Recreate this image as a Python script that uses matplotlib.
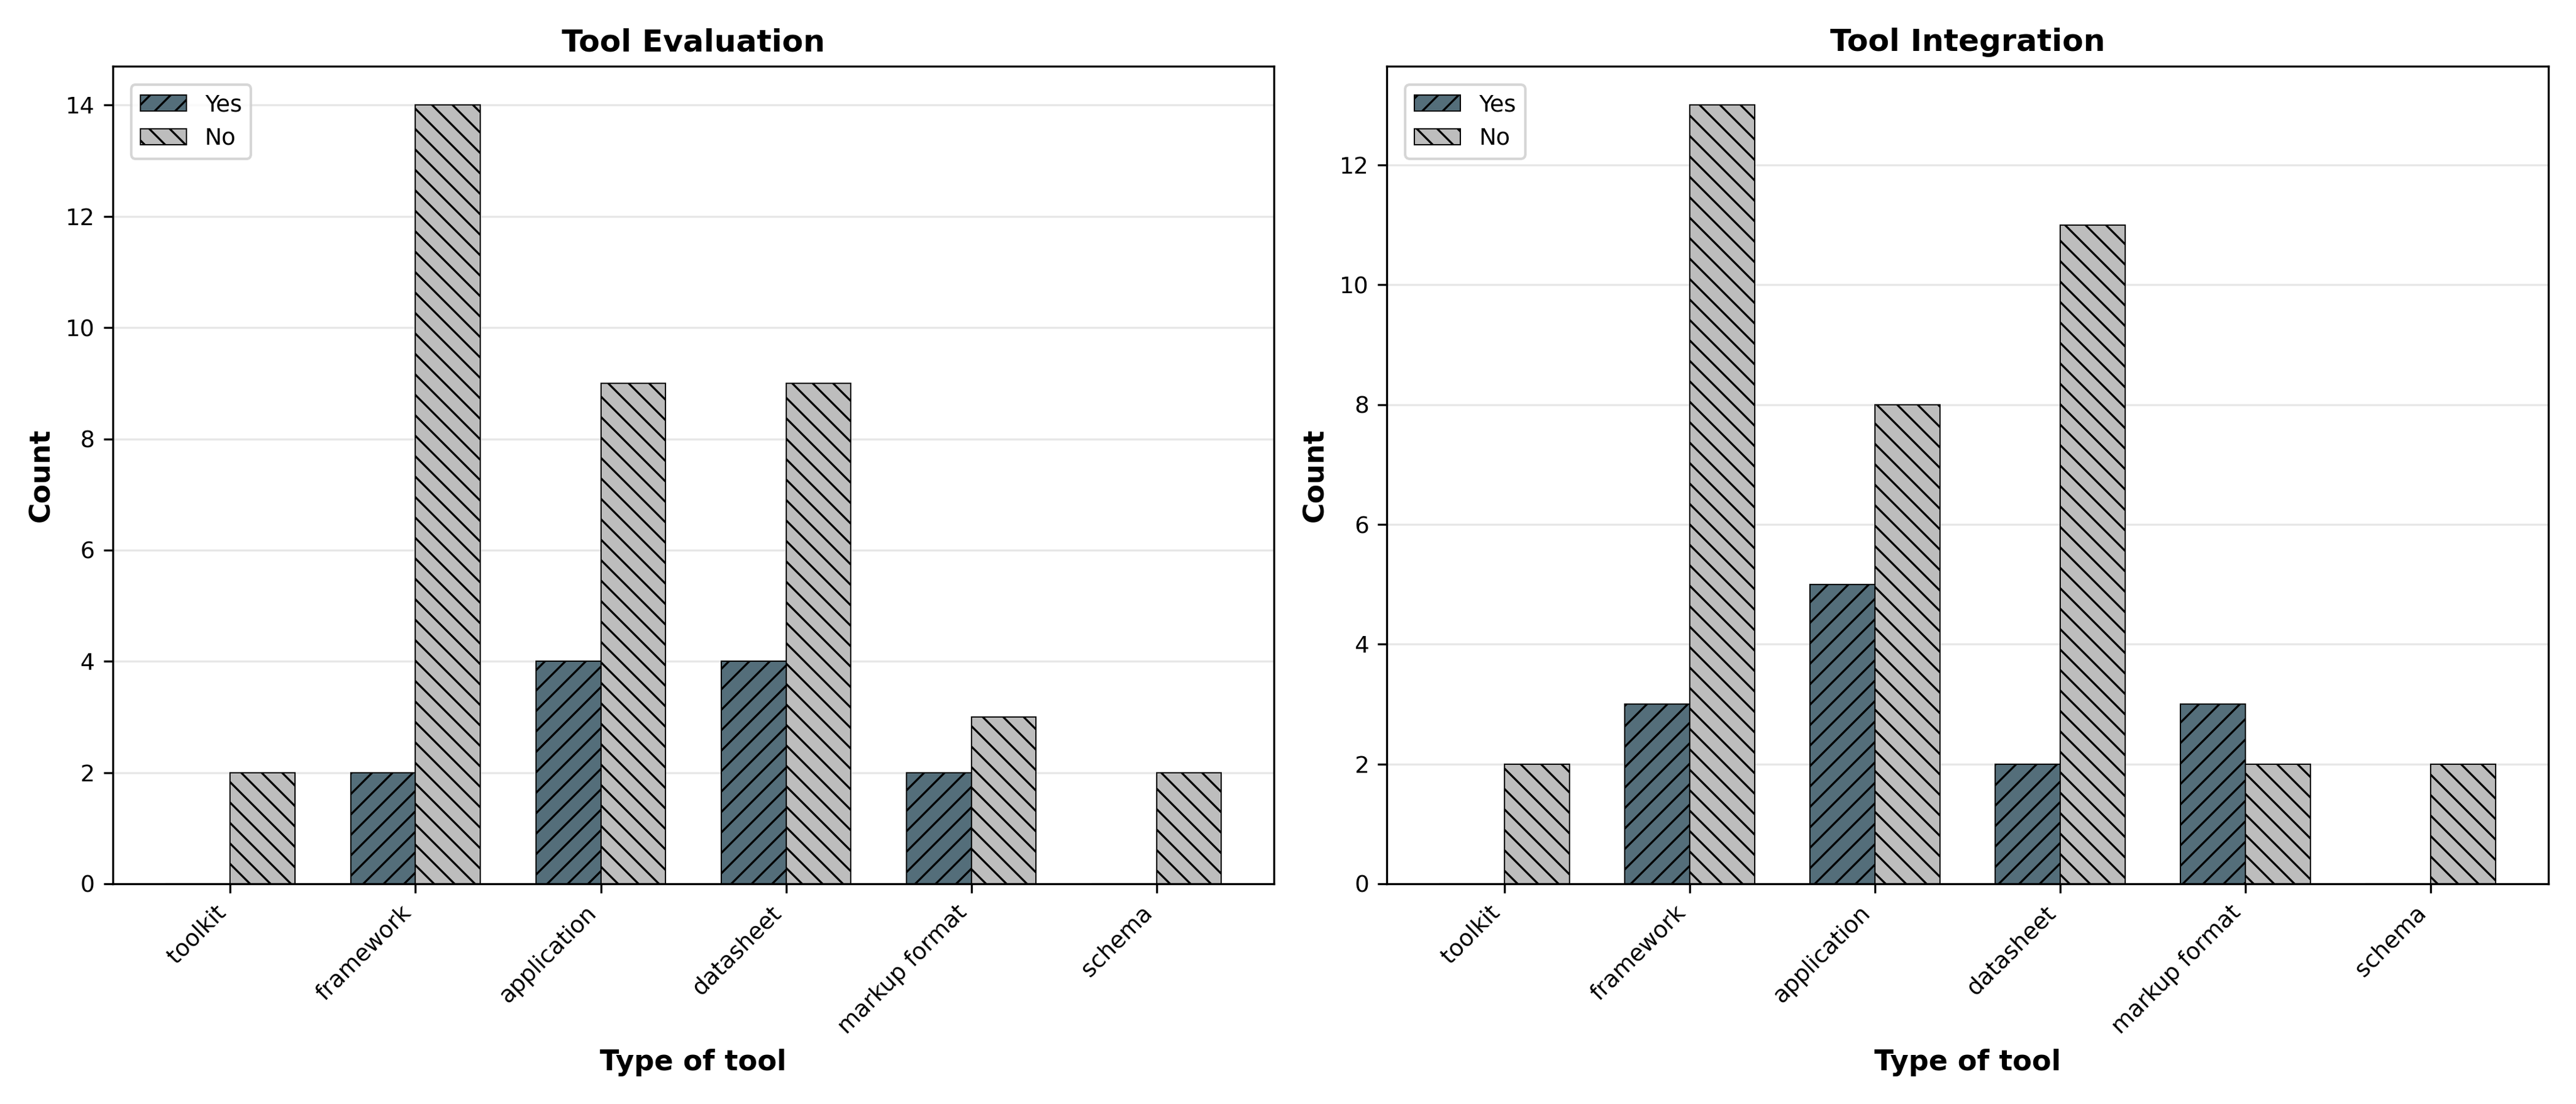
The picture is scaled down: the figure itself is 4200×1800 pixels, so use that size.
import numpy as np
import matplotlib
matplotlib.use("Agg")
import matplotlib.pyplot as plt

categories = ["toolkit", "framework", "application", "datasheet", "markup format", "schema"]
eval_yes = [0, 2, 4, 4, 2, 0]
eval_no = [2, 14, 9, 9, 3, 2]
integ_yes = [0, 3, 5, 2, 3, 0]
integ_no = [2, 13, 8, 11, 2, 2]

YES_COLOR = "#546E7A"
NO_COLOR = "#BDBDBD"

plt.rcParams["hatch.linewidth"] = 0.8

fig, axes = plt.subplots(1, 2, figsize=(14, 6), dpi=300)

panels = [
    (axes[0], "Tool Evaluation", eval_yes, eval_no),
    (axes[1], "Tool Integration", integ_yes, integ_no),
]

x = np.arange(len(categories))
width = 0.35

for ax, title, yes, no in panels:
    ax.bar(x - width / 2, yes, width, label="Yes", color=YES_COLOR,
           edgecolor="black", linewidth=0.5, hatch="///")
    ax.bar(x + width / 2, no, width, label="No", color=NO_COLOR,
           edgecolor="black", linewidth=0.5, hatch="\\\\\\")
    ax.set_title(title, fontsize=12, fontweight="bold")
    ax.set_xlabel("Type of tool", fontsize=11, fontweight="bold")
    ax.set_ylabel("Count", fontsize=11, fontweight="bold")
    ax.set_xticks(x)
    ax.set_xticklabels(categories, rotation=45, ha="right")
    ax.tick_params(labelsize=9)
    ax.yaxis.grid(True, alpha=0.3)
    ax.set_axisbelow(True)
    ax.legend(loc="upper left", fontsize=9, borderaxespad=0.8)

plt.tight_layout()
plt.savefig("out.png", dpi=300)
